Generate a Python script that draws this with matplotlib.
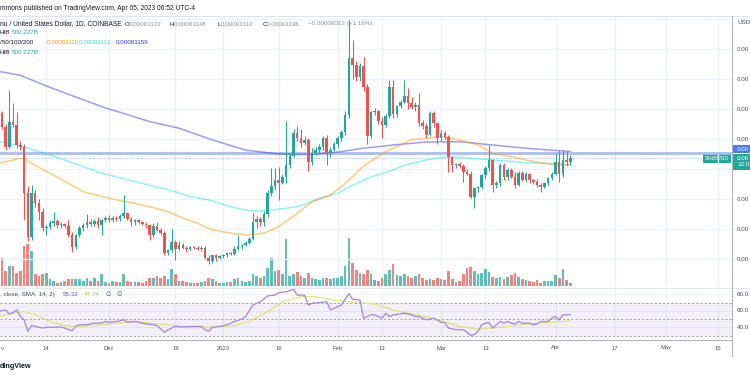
import numpy as np
import pandas as pd
import matplotlib
matplotlib.use("Agg")
import matplotlib.pyplot as plt
from matplotlib.patches import Rectangle
from matplotlib.transforms import blended_transform_factory as blend

plt.rcParams['font.family'] = ['Liberation Sans', 'DejaVu Sans']

# ---------------- data (prices in micro-USD, i.e. x 1e-6) ----------------
start_date = "2022-11-01"
opens = [12.20, 12.86, 12.41, 11.74, 12.58, 12.47, 11.80, 11.72, 10.19, 8.74,
         10.19, 9.88, 9.58, 9.02, 9.08, 9.20, 9.27, 9.12, 9.16, 9.10,
         8.80, 8.41, 8.80, 9.02, 9.13, 9.24, 9.18, 9.28, 9.15, 9.30,
         9.38, 9.30, 9.36, 9.32, 9.45, 9.52, 9.35, 9.22, 9.30, 9.22,
         9.18, 9.12, 8.80, 9.10, 8.98, 8.86, 8.21, 8.30, 8.57, 8.35,
         8.48, 8.38, 8.33, 8.40, 8.37, 8.34, 8.38, 8.05, 7.92, 8.12,
         8.05, 8.10, 8.15, 8.19, 8.17, 8.35, 8.42, 8.47, 8.55, 8.68,
         9.24, 9.32, 9.22, 9.50, 10.19, 10.45, 10.63, 10.55, 10.74, 11.15,
         11.45, 12.19, 12.05, 11.88, 11.97, 11.22, 11.55, 11.62, 11.72, 12.05,
         11.52, 11.65, 11.85, 12.05, 12.22, 12.80, 14.69, 14.47, 14.08, 14.45,
         13.74, 12.10, 12.89, 12.93, 12.60, 12.47, 12.78, 13.74, 12.85, 13.10,
         13.25, 13.45, 13.20, 13.08, 13.15, 12.55, 12.45, 12.15, 12.86, 12.52,
         12.02, 12.20, 12.08, 11.41, 11.13, 11.16, 11.10, 10.91, 10.85, 10.08,
         10.36, 10.41, 10.80, 11.02, 11.30, 10.47, 10.52, 11.13, 10.74, 10.97,
         10.74, 10.47, 10.88, 10.65, 10.82, 10.62, 10.56, 10.48, 10.41, 10.52,
         10.69, 10.85, 11.22, 10.85, 11.30, 11.22]
highs = [12.95, 12.95, 12.50, 13.63, 13.20, 12.90, 11.95, 11.85, 10.45, 10.47,
         10.30, 10.00, 9.70, 9.15, 9.30, 9.58, 9.32, 9.22, 9.20, 9.30,
         8.90, 8.85, 9.10, 9.20, 9.50, 9.35, 9.32, 9.40, 9.35, 9.45,
         9.48, 9.42, 9.45, 9.50, 10.13, 9.58, 9.40, 9.35, 9.33, 9.28,
         9.25, 9.18, 9.20, 9.22, 9.05, 8.92, 8.35, 9.00, 8.62, 8.60,
         8.55, 8.45, 8.45, 8.44, 8.42, 8.42, 8.42, 8.12, 8.15, 8.16,
         8.14, 8.18, 8.22, 8.25, 8.45, 8.80, 8.50, 8.60, 8.72, 9.55,
         9.45, 9.40, 9.60, 10.30, 11.05, 11.05, 11.08, 10.85, 12.60, 11.55,
         12.35, 12.45, 12.35, 12.10, 12.05, 11.70, 11.75, 11.82, 12.10, 12.15,
         11.72, 11.90, 12.10, 12.30, 12.95, 15.97, 15.30, 14.60, 14.55, 14.75,
         13.85, 12.95, 13.05, 12.98, 12.75, 12.85, 13.96, 13.98, 13.15, 13.30,
         13.96, 13.70, 13.40, 13.25, 13.55, 12.65, 12.55, 12.95, 12.95, 12.55,
         12.30, 12.28, 12.12, 11.45, 11.20, 11.22, 11.18, 11.00, 10.95, 10.40,
         10.45, 10.85, 11.10, 11.80, 11.35, 10.60, 11.20, 11.20, 11.02, 11.05,
         10.90, 10.95, 10.95, 10.90, 10.86, 10.68, 10.66, 10.55, 10.58, 10.75,
         10.90, 11.55, 11.65, 11.65, 11.60, 11.48]
lows = [12.10, 12.35, 11.65, 11.70, 12.40, 11.70, 11.62, 9.30, 8.60, 8.62,
        9.75, 9.30, 8.95, 8.80, 9.00, 9.10, 9.05, 9.02, 9.05, 8.75,
        8.24, 8.35, 8.75, 8.95, 9.05, 9.10, 9.10, 9.05, 8.80, 9.22,
        9.25, 9.22, 9.28, 9.28, 9.38, 9.30, 9.10, 9.15, 9.18, 9.12,
        9.05, 8.62, 8.75, 8.95, 8.80, 8.15, 8.12, 8.25, 7.97, 8.30,
        8.35, 8.25, 8.30, 8.33, 8.30, 8.28, 8.00, 7.85, 7.88, 7.95,
        8.00, 8.05, 8.08, 8.12, 8.15, 8.30, 8.32, 8.42, 8.50, 8.65,
        9.05, 9.10, 9.10, 9.40, 10.10, 10.30, 9.97, 10.50, 10.55, 11.05,
        11.40, 11.95, 11.75, 11.80, 10.95, 11.15, 11.48, 11.55, 11.65, 11.15,
        11.40, 11.60, 11.75, 11.95, 12.15, 12.70, 14.00, 13.95, 13.95, 13.60,
        11.85, 12.02, 12.80, 12.50, 12.02, 12.40, 12.70, 12.70, 12.75, 13.05,
        13.20, 13.00, 13.00, 12.95, 12.45, 12.35, 12.05, 12.10, 12.40, 11.85,
        11.95, 12.00, 10.90, 10.90, 11.05, 11.05, 10.58, 10.80, 10.02, 9.69,
        10.25, 10.35, 10.70, 10.95, 10.24, 10.38, 10.45, 10.62, 10.65, 10.70,
        10.36, 10.42, 10.60, 10.58, 10.55, 10.50, 10.40, 10.24, 10.36, 10.48,
        10.62, 10.80, 10.58, 10.75, 11.10, 11.12]
closes = [12.86, 12.41, 11.74, 12.58, 12.47, 11.80, 11.72, 10.19, 8.74, 10.19,
          9.88, 9.58, 9.02, 9.08, 9.20, 9.27, 9.12, 9.16, 9.10, 8.80,
          8.41, 8.80, 9.02, 9.13, 9.24, 9.18, 9.28, 9.15, 9.30, 9.38,
          9.30, 9.36, 9.32, 9.45, 9.52, 9.35, 9.22, 9.30, 9.22, 9.18,
          9.12, 8.80, 9.10, 8.98, 8.86, 8.21, 8.30, 8.57, 8.35, 8.48,
          8.38, 8.33, 8.40, 8.37, 8.34, 8.38, 8.05, 7.92, 8.12, 8.05,
          8.10, 8.15, 8.19, 8.17, 8.35, 8.42, 8.47, 8.55, 8.68, 9.24,
          9.32, 9.22, 9.50, 10.19, 10.45, 10.63, 10.55, 10.74, 11.15, 11.45,
          12.19, 12.05, 11.88, 11.97, 11.22, 11.55, 11.62, 11.72, 12.05, 11.52,
          11.65, 11.85, 12.05, 12.22, 12.80, 14.69, 14.47, 14.08, 14.45, 13.74,
          12.10, 12.89, 12.93, 12.60, 12.47, 12.78, 13.74, 12.85, 13.10, 13.25,
          13.45, 13.20, 13.08, 13.15, 12.55, 12.45, 12.15, 12.86, 12.52, 12.02,
          12.20, 12.08, 11.41, 11.13, 11.16, 11.10, 10.91, 10.85, 10.08, 10.36,
          10.41, 10.80, 11.02, 11.30, 10.47, 10.52, 11.13, 10.74, 10.97, 10.74,
          10.47, 10.88, 10.65, 10.82, 10.62, 10.56, 10.48, 10.41, 10.52, 10.69,
          10.85, 11.22, 10.85, 11.30, 11.23, 11.36]
# volume in billions of SHIB
volume_b = [5000, 5600, 3000, 4000, 4000, 2600, 3000, 8000, 8400, 7000,
            2400, 2000, 2400, 2600, 1400, 1000, 600, 800, 1000, 1400,
            1400, 1400, 1400, 1000, 1600, 1000, 1600, 1000, 2400, 800,
            600, 1000, 800, 800, 2400, 1000, 800, 800, 800, 600,
            1000, 1600, 1600, 2000, 1600, 2000, 1400, 3400, 2400, 1000,
            1000, 800, 600, 600, 600, 800, 1000, 1600, 1400, 1000,
            600, 600, 800, 800, 1400, 1600, 1000, 800, 1000, 2400,
            2000, 1600, 2000, 3600, 5600, 3000, 3200, 2400, 9400, 2000,
            2400, 2800, 2000, 1600, 2600, 1600, 1400, 1200, 1600, 1600,
            1400, 1600, 1600, 2000, 4000, 9600, 4600, 3200, 2600, 2400,
            3200, 2400, 1200, 1000, 1600, 2400, 3200, 4400, 2200, 2000,
            2400, 2000, 1600, 2000, 2400, 1600, 1200, 1400, 1200, 1600,
            1400, 1200, 3000, 1400, 800, 1000, 2400, 3600, 3800, 3000,
            2400, 2600, 3400, 2800, 1800, 1600, 1800, 1400, 1800, 2200,
            2600, 1800, 1400, 1200, 1000, 800, 1200, 600, 1000, 1000,
            1000, 2200, 1600, 3400, 1200, 500.227]

sma50_days = [0, 4, 6, 7, 9, 14, 19, 23, 28, 32, 37, 41, 46, 49, 54, 58, 63, 67, 72, 76,
              81, 85, 90, 94, 99, 105, 112, 116, 120, 125, 130, 134, 139, 143, 148, 152, 155]
sma50_vals = [11.19, 11.30, 11.36, 11.33, 11.19, 10.86, 10.52, 10.24, 10.08, 9.97, 9.86, 9.74,
              9.58, 9.41, 9.19, 8.97, 8.86, 8.80, 8.86, 9.08, 9.52, 9.91, 10.13, 10.52, 11.10,
              11.58, 11.97, 12.02, 12.08, 11.97, 11.80, 11.52, 11.41, 11.30, 11.19, 11.13, 11.16]
sma100_days = [0, 6, 14, 28, 39, 48, 52, 57, 63, 67, 71, 78, 82, 87, 92, 95, 100, 107, 110,
               116, 120, 125, 134, 143, 152, 155]
sma100_vals = [11.92, 11.77, 11.47, 10.86, 10.52, 10.24, 10.08, 9.97, 9.74, 9.63, 9.60, 9.69,
               9.77, 10.02, 10.19, 10.40, 10.69, 10.97, 11.13, 11.30, 11.39, 11.39, 11.30,
               11.21, 11.17, 11.12]
sma200_days = [0, 6, 14, 28, 41, 49, 58, 67, 76, 85, 93, 98, 107, 116, 125, 134, 143, 152, 155]
sma200_vals = [14.26, 14.12, 13.72, 13.08, 12.58, 12.36, 11.97, 11.63, 11.50, 11.48, 11.58,
               11.68, 11.80, 11.90, 11.91, 11.80, 11.69, 11.61, 11.59]
hline_level = 11.53

rsi_days = [0, 2, 3, 4, 5, 6, 7, 8, 9, 10, 11, 12, 13, 15, 17, 18, 19, 20, 21, 22, 24, 26, 28,
            29, 30, 32, 34, 35, 37, 38, 40, 42, 43, 45, 46, 47, 48, 49, 51, 53, 55, 56, 57, 58,
            60, 62, 64, 66, 67, 69, 71, 73, 75, 76, 78, 80, 81, 83, 84, 85, 87, 89, 90, 91, 93,
            95, 96, 98, 99, 101, 102, 103, 104, 105, 106, 107, 110, 112, 113, 114, 116, 118,
            120, 121, 122, 124, 126, 127, 128, 129, 130, 131, 132, 133, 134, 135, 136, 137,
            138, 139, 140, 141, 142, 144, 145, 146, 147, 149, 150, 151, 152, 153, 154, 155]
rsi_vals = [59, 61, 56, 58, 61, 53, 49, 35, 42, 41, 40, 39, 40, 40, 40.5, 39, 37, 36, 41, 43,
            43, 45, 45, 47, 46, 47, 49, 46, 47, 46, 44, 43, 42, 34, 37, 39, 41, 40.5, 40.5, 41,
            41, 37, 35, 40, 41, 43, 47, 50, 53, 67, 71, 78, 79, 82, 83, 86, 79, 79, 67, 69, 70,
            71, 61, 63, 67, 81, 74, 73, 51, 55, 55, 53, 51, 57, 53, 55, 57, 55, 53, 53, 49, 51,
            46, 45.5, 39, 37, 37, 34, 30.3, 31, 35, 43, 45, 45.5, 39, 43, 47, 45, 47, 45, 44,
            47, 45, 45, 43, 44, 47, 47, 51, 53, 49, 55, 55, 55.32]
rsi_ma_days = [0, 5, 7, 10, 14, 18, 23, 28, 32, 37, 41, 46, 50, 55, 59, 64, 68, 73, 77, 82,
               86, 91, 95, 98, 102, 107, 112, 116, 121, 125, 130, 134, 139, 143, 148, 152, 155]
rsi_ma_vals = [53, 58, 59, 55, 47, 42, 41, 43, 45, 47, 45, 43, 41, 40.3, 40.3, 42, 47, 59, 71,
               77, 77, 73, 71, 70, 68, 61, 56.5, 53, 46.5, 41, 37.9, 39, 41.5, 43.9, 45.2, 46.8,
               47.74]

tick_dates = ["2022-11-01", "2022-11-14", "2022-12-01", "2022-12-19", "2023-01-01",
              "2023-01-16", "2023-02-01", "2023-02-13", "2023-03-01", "2023-03-13",
              "2023-04-01", "2023-04-17", "2023-05-01", "2023-05-15"]
tick_labels = ["Nov", "14", "Dec", "19", "2023", "16", "Feb", "13", "Mar", "13",
               "Apr", "17", "May", "15"]
price_levels = [8, 9, 10, 11, 12, 13, 14, 15, 16]
rsi_levels = [40, 60, 80]

# ---------------- styling ----------------
W, H = 750, 375
UP, DN = "#26a69a", "#ef5350"
GRID = "#eef1f8"
TXT = "#131722"
GRAY = "#8b8e97"
AXC = "#4a4e59"
FS = 4.5
VIS = 4  # characters of the right-hand scale labels left visible by the screenshot crop

fig = plt.figure(figsize=(7.5, 3.75), dpi=100)
fig.patch.set_facecolor("white")


def box(x0, y0, x1, y1):
    return [x0 / W, 1 - y1 / H, (x1 - x0) / W, (y1 - y0) / H]


def clean(a):
    a.set_axis_off()


t0 = pd.Timestamp(start_date)
n = len(closes)
x = np.arange(n)
tick_pos = [(pd.Timestamp(d) - t0).days for d in tick_dates]
XL = (0.46, 198.83)

o = np.array(opens); h = np.array(highs); l = np.array(lows); c = np.array(closes)
cols = np.where(c >= o, UP, DN)

# volume + grid (background)
vax = fig.add_axes(box(0, 16, 732, 286), zorder=1)
clean(vax)
vax.set_xlim(*XL)
vax.set_ylim(0, 54000)
for tp in tick_pos:
    vax.axvline(tp, color=GRID, lw=0.9, zorder=0)
vax.bar(x, volume_b, width=0.72, color=cols, alpha=0.72, linewidth=0, zorder=2)

# price
ax = fig.add_axes(box(0, 16, 732, 286), zorder=2)
clean(ax)
ax.patch.set_alpha(0)
ax.set_xlim(*XL)
ax.set_ylim(7.1, 16.1)
for pl in price_levels:
    ax.axhline(pl, color=GRID, lw=0.9, zorder=0)
ax.axhline(hline_level, color="#aabbf7", lw=2.0, zorder=1)
ax.axhline(closes[-1], color=UP, lw=0.7, ls=(0, (1, 1.6)), alpha=0.6, zorder=1)
ax.plot(sma200_days, sma200_vals, color="#3b3bff", alpha=0.5, lw=1.1, zorder=2)
ax.plot(sma100_days, sma100_vals, color="#00e5ff", alpha=0.45, lw=1.1, zorder=2)
ax.plot(sma50_days, sma50_vals, color="#ff9800", alpha=0.5, lw=1.1, zorder=2)
ax.vlines(x, l, h, colors=cols, lw=0.75, zorder=3)
body_lo = np.minimum(o, c)
body_h = np.maximum(np.abs(c - o), 0.025)
ax.bar(x, body_h, bottom=body_lo, width=0.7, color=cols, linewidth=0, zorder=4)

# RSI pane
rax = fig.add_axes(box(0, 289, 732, 339), zorder=2)
clean(rax)
rax.set_xlim(*XL)
rax.set_ylim(25.76, 86.4)
for tp in tick_pos:
    rax.axvline(tp, color=GRID, lw=0.9, zorder=0)
for rl in rsi_levels:
    rax.axhline(rl, color=GRID, lw=0.9, zorder=0)
rax.axhspan(30, 70, color="#7e57c2", alpha=0.09, lw=0, zorder=1)
for lv in (70, 50, 30):
    rax.axhline(lv, color="#9598a1", lw=0.6, ls=(0, (2.5, 2.5)), zorder=2)
rax.plot(rsi_ma_days, rsi_ma_vals, color="#dde67a", lw=0.9, zorder=3)
rax.plot(rsi_days, rsi_vals, color="#a582dc", lw=0.9, zorder=4)


# frame lines
def hline_px(y, x0, x1, color, lw=0.8):
    fig.add_artist(plt.Line2D([x0 / W, x1 / W], [1 - y / H, 1 - y / H], color=color, lw=lw,
                              transform=fig.transFigure))


def vline_px(xp, y0, y1, color, lw=0.8):
    fig.add_artist(plt.Line2D([xp / W, xp / W], [1 - y0 / H, 1 - y1 / H], color=color, lw=lw,
                              transform=fig.transFigure))


hline_px(15.5, 0, 750, "#e0e3eb")
hline_px(287.5, 0, 750, "#e6e8ee")
hline_px(339.5, 0, 732, "#b2b5be")
vline_px(732, 15.5, 356, "#b2b5be")

# time axis labels; the first one sits on the cropped left edge, only its tail shows
tb = blend(rax.transData, fig.transFigure)
for tp, tl in zip(tick_pos, tick_labels):
    xpix = rax.transData.transform((tp, 0))[0] - fig.transFigure.transform((0, 0))[0]
    if xpix < 6:
        fig.text(0.5 / W, 1 - 348 / H, tl[-1], ha="left", va="center", fontsize=4.2,
                 color=AXC)
    else:
        rax.text(tp, 1 - 348 / H, tl, transform=tb, ha="center", va="center",
                 fontsize=4.2, color=AXC, clip_on=False)

# price axis labels (only the part visible inside the screenshot crop)
pb = blend(fig.transFigure, ax.transData)
for pl in price_levels:
    if pl in (11, 16):
        continue
    ax.text(737 / W, pl, f"{pl * 1e-6:.8f}"[:VIS], transform=pb, ha="left", va="center",
            fontsize=FS, color=AXC, clip_on=False)
fig.text(737 / W, 1 - 22 / H, "USD", ha="left", va="center", fontsize=FS, color=AXC)

# RSI axis labels
rb = blend(fig.transFigure, rax.transData)
for rl in (80, 60, 40):
    rax.text(737 / W, rl, f"{rl:.2f}"[:VIS], transform=rb, ha="left", va="center",
             fontsize=FS, color=AXC, clip_on=False)


# price tags on axis
def y_px_of(price):
    return H - ax.transData.transform((0, price))[1]


yb = y_px_of(sma200_vals[-1]) - 2
fig.add_artist(Rectangle((732 / W, 1 - (yb + 4) / H), 18 / W, 8 / H, transform=fig.transFigure,
                         color="#2962ff", alpha=0.85, lw=0))
fig.text(737 / W, 1 - yb / H, f"{sma200_vals[-1] * 1e-6:.8f}"[:VIS], ha="left", va="center",
         fontsize=FS, color="white")
yc = y_px_of(closes[-1])
fig.add_artist(Rectangle((732 / W, 1 - (yc + 12) / H), 18 / W, 16.5 / H,
                         transform=fig.transFigure, color=UP, lw=0))
fig.text(737 / W, 1 - yc / H, f"{closes[-1] * 1e-6:.8f}"[:VIS], ha="left", va="center",
         fontsize=FS, color="white")
fig.text(737 / W, 1 - (yc + 6.5) / H, "13:07:08"[:VIS], ha="left", va="center",
         fontsize=FS, color="white")
fig.add_artist(Rectangle((703 / W, 1 - (yc + 4.5) / H), 27.5 / W, 9 / H,
                         transform=fig.transFigure, color=UP, lw=0))
fig.text(716.5 / W, 1 - yc / H, "SHIBUSD", ha="center", va="center", fontsize=4.0,
         color="white")


# header texts (the screenshot is cropped at the left edge)
def t(xp, yp, s, color=TXT, fs=FS, ha="left", **kw):
    fig.text(xp / W, 1 - yp / H, s, ha=ha, va="center", fontsize=fs, color=color, **kw)


t(0, 8, "mmons published on TradingView.com, Apr 05, 2023 06:52 UTC-4", fs=4.75)
t(0, 24, "nu / United States Dollar, 1D, COINBASE", fs=4.75)
for xp, lab, val in [(125, "O", 1122), (170, "H", 1148), (217, "L", 1112), (263, "C", 1136)]:
    t(xp, 24, lab)
    t(xp + 4.0, 24, f"{val * 1e-8:.8f}", color=GRAY)
t(308, 24, "\u22120.00000013 (+1.16%)", color=GRAY)
t(0, 33, "HIB")
t(12, 33, "500.227B", color=UP)
t(0, 42, "/50/100/200")
t(47, 42, f"{sma50_vals[-1] * 1e-6:.8f}", color="#ff9800")
t(79, 42, f"{sma100_vals[-1] * 1e-6:.8f}", color="#3dd6ea")
t(116, 42, f"{sma200_vals[-1] * 1e-6:.8f}", color="#2f2fff")
t(0, 52, "HIB")
t(12, 52, "500.227B", color=UP)
t(0, 294.5, ", close, SMA, 14, 2)", color=AXC)
t(63, 294.5, f"{rsi_vals[-1]:.2f}", color="#7e57c2")
t(84, 294.5, f"{rsi_ma_vals[-1]:.2f}", color="#c0ca33")
t(106, 294.5, "\u2205", color=AXC)
t(117, 294.5, "\u2205", color=AXC)
t(0, 366, "dingView", fs=5.2, fontweight="bold")

fig.savefig("out.png", dpi=100, facecolor="white")
